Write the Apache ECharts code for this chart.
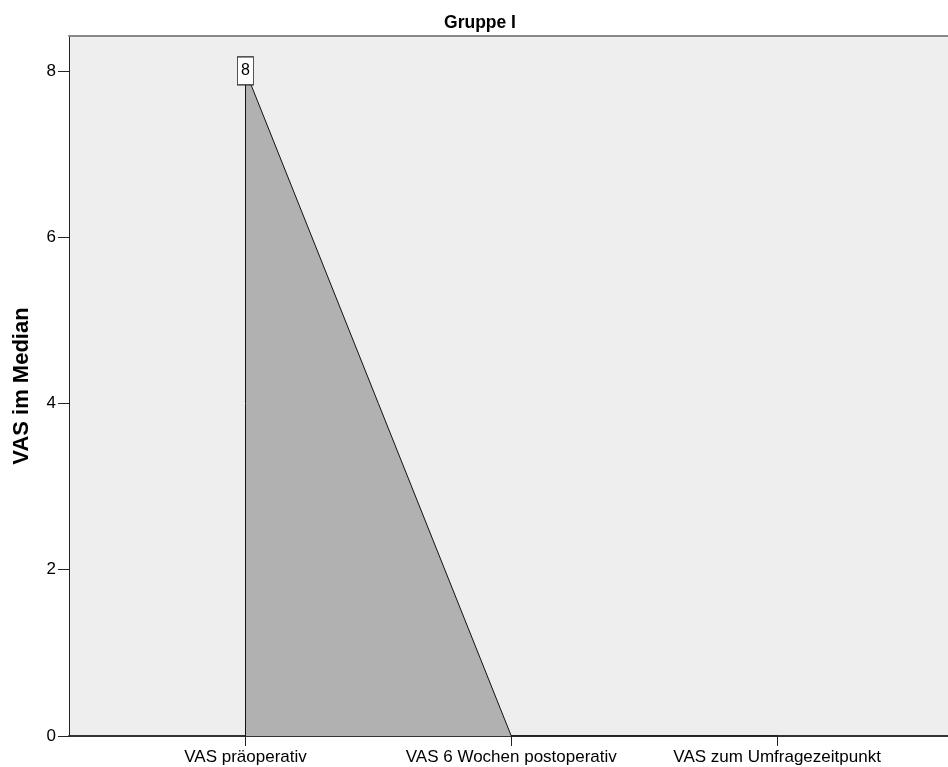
<!DOCTYPE html>
<html><head><meta charset="utf-8">
<script src="https://cdn.jsdelivr.net/npm/echarts@6/dist/echarts.min.js"></script>
<style>html,body{margin:0;padding:0;background:#fff}#c{width:948px;height:767px}</style>
</head><body><div id="c"></div>
<script>
var categories = ["VAS präoperativ", "VAS 6 Wochen postoperativ", "VAS zum Umfragezeitpunkt"];
var values = [8, 0, 0];
var yTicks = [0, 2, 4, 6, 8];
var title = "Gruppe I";
var yName = "VAS im Median";

var positions = categories.map(function (c, i) { return i + 1; });
var seriesData = values.map(function (v, i) { return [positions[i], v]; });
var F = "'Liberation Sans', Arial, sans-serif";
var chart = echarts.init(document.getElementById('c'));
chart.setOption({
  animation: false,
  title: { text: title, left: 475, top: 9, textAlign: 'center',
    textStyle: { fontFamily: F, fontSize: 17.5, fontWeight: 'bold', color: '#000' } },
  grid: { left: 69, top: 36, right: 0, bottom: 31, show: true, backgroundColor: '#eeeeee', borderWidth: 0,
    outerBoundsMode: 'none' },
  xAxis: [{
    type: 'value', min: 0.336, max: 3.643, position: 'bottom',
    splitLine: { show: false },
    axisLine: { show: true, onZero: false, lineStyle: { color: '#333', width: 2 } },
    axisTick: { show: true, length: 10, customValues: positions, lineStyle: { color: '#222', width: 1 } },
    axisLabel: { customValues: positions, margin: 13, fontFamily: F, fontSize: 17, color: '#000',
      formatter: function (v) { return categories[Math.round(v) - 1] || ''; } }
  }, {
    type: 'value', min: 0.336, max: 3.643, position: 'top',
    splitLine: { show: false },
    axisLine: { show: true, onZero: false, lineStyle: { color: '#888', width: 2 } },
    axisTick: { show: false }, axisLabel: { show: false }
  }],
  yAxis: {
    type: 'value', min: 0, max: 8.42,
    name: yName, nameLocation: 'middle', nameGap: 36,
    nameTextStyle: { fontFamily: F, fontSize: 22, fontWeight: 'bold', color: '#000' },
    splitLine: { show: false },
    axisLine: { show: true, lineStyle: { color: '#222', width: 1 } },
    axisTick: { show: true, length: 11, customValues: yTicks, lineStyle: { color: '#222' } },
    axisLabel: { customValues: yTicks, margin: 13, fontFamily: F, fontSize: 17, color: '#000' }
  },
  series: [{
    type: 'line', data: seriesData, symbol: 'none',
    lineStyle: { color: '#111', width: 1 },
    areaStyle: { color: '#b1b1b1', opacity: 1 },
    markLine: {
      silent: true, symbol: 'none', label: { show: false },
      lineStyle: { color: '#111', width: 1, type: 'solid' },
      data: [[{ coord: [positions[0], 0] }, { coord: [positions[0], values[0]] }]]
    },
    markPoint: {
      silent: true, symbol: 'rect', symbolSize: [16, 28],
      itemStyle: { color: '#fff', borderColor: '#222', borderWidth: 1 },
      label: { show: true, position: 'inside', fontFamily: F, fontSize: 16, color: '#000',
        formatter: function (p) { return String(p.value); } },
      data: [{ coord: [positions[0], values[0]], value: values[0] }]
    },
    z: 2
  }]
});
</script></body></html>
